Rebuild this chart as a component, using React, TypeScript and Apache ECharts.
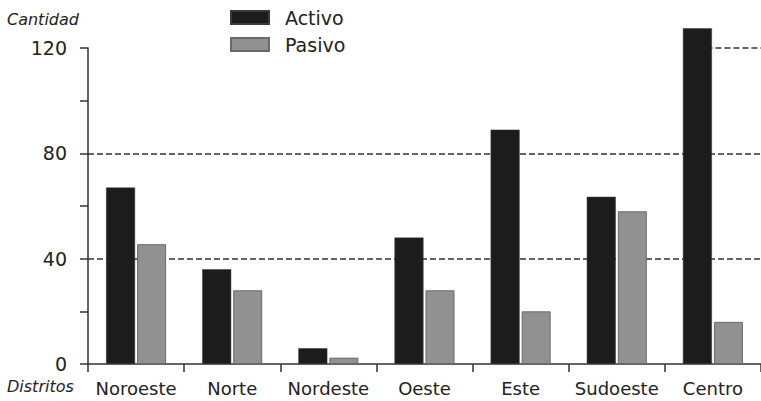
import React, { useEffect, useRef } from "react";
import * as echarts from "echarts";

const categories = ["Noroeste", "Norte", "Nordeste", "Oeste", "Este", "Sudoeste", "Centro"];
const activo = [67, 36, 6, 48, 89, 63.5, 127.5];
const pasivo = [45.5, 28, 2.4, 28, 20, 58, 16];
const seriesNames = ["Activo", "Pasivo"];
const yTicks = { min: 0, max: 120, interval: 40 };

const FONT = "DejaVu Sans";
const TXT = "#222";

export default function App() {
  const ref = useRef<HTMLDivElement>(null);
  useEffect(() => {
    if (!ref.current) return;
    const chart = echarts.init(ref.current, null, { renderer: "svg" });
    chart.setOption({
      animation: false,
      backgroundColor: "#fff",
      grid: { left: 88, right: -5, top: 48, bottom: 37 },
      legend: {
        orient: "vertical",
        left: 225,
        top: 3,
        itemWidth: 38,
        itemHeight: 13,
        itemGap: 8,
        icon: "rect",
        data: seriesNames,
        textStyle: { fontFamily: FONT, fontSize: 19, color: TXT, padding: [0, 0, 0, 11] },
      },
      graphic: [
        {
          type: "text",
          left: 7,
          top: 11,
          style: { text: "Cantidad", font: `italic 16px "${FONT}"`, fill: TXT },
        },
        {
          type: "text",
          left: 7,
          top: 378,
          style: { text: "Distritos", font: `italic 16px "${FONT}"`, fill: TXT },
        },
      ],
      xAxis: {
        type: "category",
        data: categories,
        axisLine: { lineStyle: { color: "#333", width: 1.5 } },
        axisTick: { show: true, length: 8, lineStyle: { color: "#333", width: 1.5 } },
        axisLabel: { fontFamily: FONT, fontSize: 18, color: TXT, margin: 15, interval: 0 },
      },
      yAxis: {
        type: "value",
        min: yTicks.min,
        max: yTicks.max,
        interval: yTicks.interval,
        axisLine: { show: true, lineStyle: { color: "#333", width: 1.5 } },
        axisTick: { show: true, length: 8, lineStyle: { color: "#333", width: 1.5 } },
        minorTick: { show: true, splitNumber: 2, length: 8, lineStyle: { color: "#333", width: 1.5 } },
        axisLabel: { fontFamily: FONT, fontSize: 19, color: TXT, margin: 21 },
        splitLine: {
          show: true,
          showMinLine: false,
          showMaxLine: false,
          lineStyle: { color: "#333", width: 1.5, type: [6, 3] },
        },
      },
      series: [
        {
          name: seriesNames[0],
          type: "bar",
          data: activo,
          barWidth: 29,
          barGap: "7%",
          clip: false,
          z: 3,
          itemStyle: { color: "#1c1c1c", borderColor: "#3a3a3a", borderWidth: 0.5 },
          markLine: {
            silent: true,
            symbol: "none",
            z: 1,
            label: { show: false },
            lineStyle: { color: "#333", width: 1.5, type: [6, 3] },
            data: [[{ coord: ["Centro", 120] }, { coord: ["Centro", 120], x: "100%" }]],
          },
        },
        {
          name: seriesNames[1],
          type: "bar",
          data: pasivo,
          barWidth: 29,
          clip: false,
          itemStyle: { color: "#919191", borderColor: "#6a6a6a", borderWidth: 1 },
        },
      ],
    });
    return () => chart.dispose();
  }, []);
  return (
    <div
      ref={ref}
      style={{ position: "fixed", left: 0, top: 0, width: 761, height: 401 }}
    />
  );
}
